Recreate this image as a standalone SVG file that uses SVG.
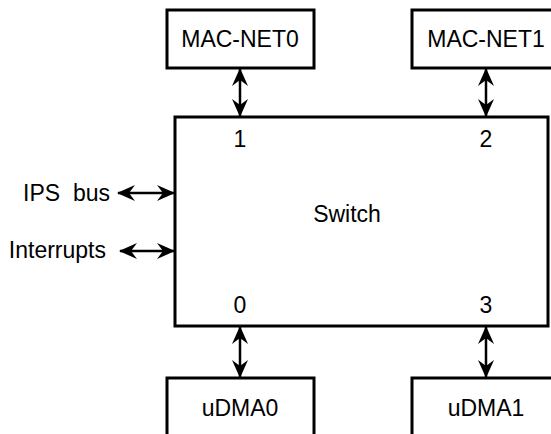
<svg xmlns="http://www.w3.org/2000/svg" width="551" height="434" viewBox="0 0 551 434">
<style>
.box{fill:#fff;stroke:#000;stroke-width:3}
.t{font-family:"Liberation Sans",Arial,Helvetica,sans-serif;font-size:23px;fill:#000}
.m{text-anchor:middle}
.e{text-anchor:end}
.c{stroke:#000;stroke-width:2.5;fill:none;marker-start:url(#ah);marker-end:url(#ah)}
</style>
<defs>
<marker id="ah" viewBox="0 0 18 16" refX="17" refY="8" markerWidth="18" markerHeight="16" markerUnits="userSpaceOnUse" orient="auto-start-reverse">
<path d="M0,0 L18,8 L0,16 L6,8 z" fill="#000"/>
</marker>
</defs>
<rect width="551" height="434" fill="#fff"/>
<g id="connectors">
<line class="c" x1="240" y1="69" x2="240" y2="116"/>
<line class="c" x1="486" y1="69" x2="486" y2="116"/>
<line class="c" x1="240" y1="327" x2="240" y2="377"/>
<line class="c" x1="486" y1="327" x2="486" y2="377"/>
<line class="c" x1="118" y1="193" x2="174" y2="193"/>
<line class="c" x1="120" y1="251" x2="174" y2="251"/>
</g>
<g id="switch">
<rect class="box" x="175" y="117" width="373" height="209"/>
<text class="t m" x="347" y="222">Switch</text>
<text class="t m" x="240" y="147">1</text>
<text class="t m" x="486" y="147">2</text>
<text class="t m" x="240" y="313">0</text>
<text class="t m" x="486" y="313">3</text>
</g>
<g id="mac-net0">
<rect class="box" x="167" y="10" width="147" height="58"/>
<text class="t m" x="240" y="47">MAC-NET0</text>
</g>
<g id="mac-net1">
<rect class="box" x="412" y="10" width="145" height="58"/>
<text class="t m" x="486" y="47">MAC-NET1</text>
</g>
<g id="udma0">
<rect class="box" x="167" y="378" width="147" height="70"/>
<text class="t m" x="240" y="416">uDMA0</text>
</g>
<g id="udma1">
<rect class="box" x="412" y="378" width="145" height="70"/>
<text class="t m" x="486" y="416">uDMA1</text>
</g>
<g id="ips-bus">
<text class="t e" x="110" y="201" style="white-space:pre">IPS  bus</text>
</g>
<g id="interrupts">
<text class="t e" x="106" y="258">Interrupts</text>
</g>
</svg>
